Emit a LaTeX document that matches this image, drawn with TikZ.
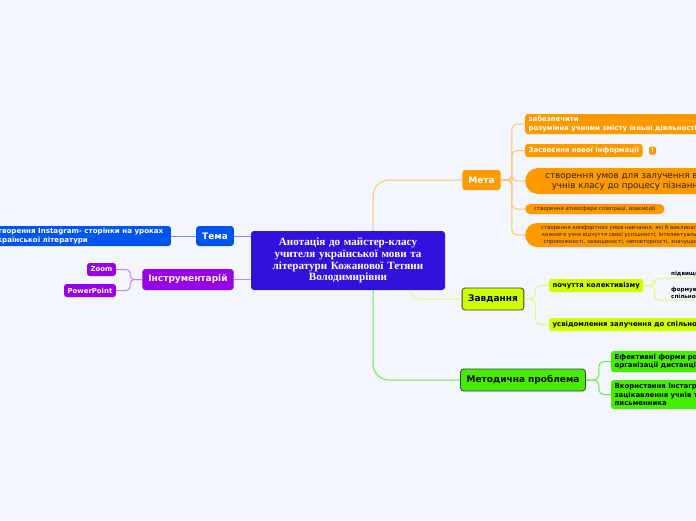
\documentclass[tikz,border=0pt]{standalone}
\usepackage{fontspec}
\setmainfont{Liberation Serif}
\setsansfont{DejaVu Sans}
\usetikzlibrary{positioning}

\definecolor{pagebg}{RGB}{244,246,253}
\definecolor{rootcol}{RGB}{51,17,221}
\definecolor{temacol}{RGB}{0,85,238}
\definecolor{instrcol}{RGB}{153,0,230}
\definecolor{metacol}{RGB}{255,153,0}
\definecolor{zavdcol}{RGB}{204,255,0}
\definecolor{methcol}{RGB}{68,238,0}
\definecolor{temaline}{RGB}{110,150,250}
\definecolor{instrline}{RGB}{200,130,250}
\definecolor{metaline}{RGB}{255,195,110}
\definecolor{zavdline}{RGB}{225,250,120}
\definecolor{methline}{RGB}{100,240,60}

\begin{document}
\begin{tikzpicture}[x=1pt, y=-1pt,
    topic/.style={rectangle, rounded corners=3pt, font=\sffamily\bfseries\fontsize{9}{10}\selectfont, inner xsep=6pt, inner ysep=0pt, minimum height=20pt},
    leaf/.style={rectangle, rounded corners=2.5pt, font=\sffamily\bfseries\fontsize{6.9}{8.4}\selectfont, inner xsep=3.5pt, inner ysep=2pt, align=left},
    pill/.style={rectangle, rounded corners=#1, fill=metacol, text=black!85, align=center, font=\sffamily},
    bare/.style={font=\sffamily\bfseries\fontsize{5.6}{7.5}\selectfont, inner sep=1pt, align=left, anchor=south west},
    link/.style={line width=1pt, rounded corners=9pt, color=#1}
]
\useasboundingbox (0,0) rectangle (696,520);
\fill[pagebg] (0,0) rectangle (696,520);
\clip (0,0) rectangle (696,520);

% root
\node[rectangle, rounded corners=3pt, fill=rootcol, text=white, minimum width=194pt, minimum height=59pt, text width=184pt, align=center, font=\bfseries\fontsize{11.1}{11.7}\selectfont] (root) at (348,260.5)
  {Анотація до майстер-класу\\учителя української мови та\\літератури Кожанової Тетяни\\Володимирівни};

% left side
\node[topic, fill=temacol, text=white] (tema) at (215,236) {Тема};
\node[leaf, fill=temacol, text=white, anchor=east, minimum height=20pt, inner xsep=7.5pt, inner ysep=1pt, font=\sffamily\bfseries\fontsize{7.1}{8.4}\selectfont] (tema1) at (171,236)
  {Створення Instagram- сторінки на уроках\\української літератури};
\node[topic, fill=instrcol, text=white, minimum height=21pt] (instr) at (188,279.5) {Інструментарій};
\node[leaf, fill=instrcol, text=white, anchor=east, minimum height=13pt] (zoom) at (116,269.5) {Zoom};
\node[leaf, fill=instrcol, text=white, anchor=east, minimum height=13pt] (ppt) at (116,290.5) {PowerPoint};

% right side
\node[topic, fill=metacol, text=white] (meta) at (481.5,180) {Мета};
\node[leaf, fill=metacol, text=white, anchor=west, minimum height=20pt, inner ysep=1pt] (meta1) at (525,124)
  {забезпечити\\розуміння учнями змісту їхньої діяльності на уроці};
\node[leaf, fill=metacol, text=white, anchor=west, minimum height=13pt] (meta2) at (525,150.5) {Засвоєння нової інформації};
\node[rectangle, rounded corners=1.5pt, fill=metacol, text=white, minimum width=7pt, minimum height=8pt, inner sep=0pt, font=\sffamily\bfseries\fontsize{6}{6}\selectfont, right=6pt of meta2] (note) {!};
\node[pill=13pt, anchor=west, minimum height=26pt, inner xsep=20pt, inner ysep=1pt, font=\sffamily\fontsize{8.8}{10.5}\selectfont] (meta3) at (525,181)
  {створення умов для залучення всіх\\учнів класу до процесу пізнання};
\node[pill=5pt, anchor=west, minimum height=10pt, inner xsep=9pt, inner ysep=0pt, font=\sffamily\fontsize{5.4}{6}\selectfont] (meta4) at (525,209)
  {створення атмосфери співпраці, взаємодії};
\node[pill=12pt, anchor=west, minimum height=24pt, inner xsep=16pt, inner ysep=1pt, font=\sffamily\fontsize{5.4}{6.6}\selectfont] (meta5) at (525,235)
  {створення комфортних умов навчання, які б викликали у\\кожного учня відчуття своєї успішності, інтелектуальної\\спроможності, захищеності, неповторності, значущості};

\node[topic, fill=zavdcol, draw=black!75, line width=0.8pt, minimum height=22pt] (zavd) at (493,299) {Завдання};
\node[leaf, fill=zavdcol, text=black, anchor=west, minimum height=13pt] (zavd1) at (549,285.5) {почуття колективізму};
\node[leaf, fill=zavdcol, text=black, anchor=west, minimum height=13pt] (zavd2) at (549,324.5) {усвідомлення залучення до спільної діяльності};
\node[bare] (zavd11) at (670,278) {підвищення інтересу};
\node[bare] (zavd12) at (670,300) {формування почуття\\спільності};

\node[topic, fill=methcol, draw=black!75, line width=0.8pt, minimum height=22pt] (meth) at (523,380) {Методична проблема};
\node[leaf, fill=methcol, text=black, anchor=west, minimum height=21pt, inner ysep=1pt] (meth1) at (611,361.5)
  {Ефективні форми роботи з\\організації дистанційного навчання};
\node[leaf, fill=methcol, text=black, anchor=west, minimum height=29pt, inner ysep=1pt] (meth2) at (611,394.5)
  {Вкористання Інстаграм-сторінки для\\зацікавлення учнів творчістю\\письменника};

% links
\draw[link=temaline] (tema.east) -- (tema.east -| root.west);
\draw[link=temaline] (tema.west) -- (tema1.east);
\draw[link=instrline] (instr.east) -- (instr.east -| root.west);
\draw[link=instrline, rounded corners=4pt] (instr.west) -- ++(-12,0) |- (zoom.east);
\draw[link=instrline, rounded corners=4pt] (instr.west) -- ++(-12,0) |- (ppt.east);

\draw[link=metaline, rounded corners=16pt] ([xshift=25pt]root.north) |- (meta.west);
\draw[link=zavdline] ([xshift=62pt]root.south) |- (zavd.west);
\draw[link=methline, rounded corners=16pt] ([xshift=25pt]root.south) |- (meth.west);

\foreach \n in {meta1,meta2,meta3,meta4,meta5}
  \draw[link=metaline, rounded corners=5pt] (meta.east) -- ++(11,0) |- (\n.west);
\foreach \n in {zavd1,zavd2}
  \draw[link=zavdline, rounded corners=5pt] (zavd.east) -- ++(11,0) |- (\n.west);
\foreach \n in {zavd11,zavd12}
  \draw[link=zavdline, rounded corners=5pt] (zavd1.east) -- ++(11,0) |- (\n.south east);
\foreach \n in {meth1,meth2}
  \draw[link=methline, rounded corners=5pt] (meth.east) -- ++(13,0) |- (\n.west);
\end{tikzpicture}
\end{document}
